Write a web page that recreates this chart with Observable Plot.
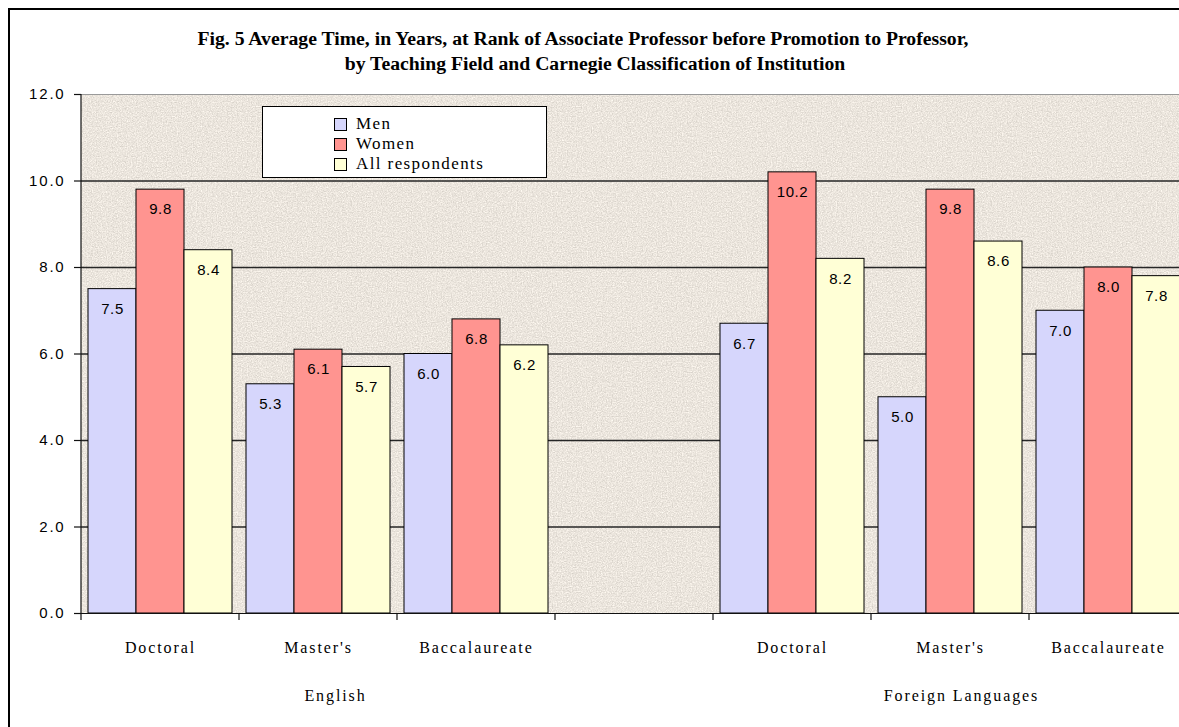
<!DOCTYPE html>
<html>
<head>
<meta charset="utf-8">
<script src="https://cdn.jsdelivr.net/npm/d3@7"></script>
<script src="https://cdn.jsdelivr.net/npm/@observablehq/plot@0.6"></script>
<style>
  html, body { margin: 0; padding: 0; background: #fff; overflow: hidden; width: 1179px; height: 727px; }
  #frame { position: absolute; left: 8px; top: 8px; width: 1260px; height: 780px; border: 2px solid #000; box-sizing: border-box; }
  #chart { position: absolute; left: 0; top: 0; width: 1200px; }
  #chart svg { max-width: none !important; width: 1200px; height: 727px; }
  .title { position: absolute; white-space: nowrap; transform: translateX(-50%); font: bold 19.7px "Liberation Serif", serif; color: #000; }
  #legend { position: absolute; left: 262px; top: 106px; width: 285px; height: 72px; box-sizing: border-box;
            background: #fff; border: 1px solid #000; padding: 7px 0 0 71px; }
  #legend .item { height: 20px; display: flex; align-items: center; font-family: "Liberation Serif", serif; font-size: 17px; letter-spacing: 1.4px; color: #000; }
  #legend .sw { width: 11px; height: 11px; border: 1px solid #000; margin-right: 9px; }
</style>
</head>
<body>
<div id="frame"></div>
<div id="chart"></div>
<div class="title" style="left:583px; top:27px;">Fig. 5 Average Time, in Years, at Rank of Associate Professor before Promotion to Professor,</div>
<div class="title" style="left:595px; top:52px;">by Teaching Field and Carnegie Classification of Institution</div>
<div id="legend"></div>
<script>
// Teaching fields and institution types along the x axis
const fields = ["English", "Foreign Languages"];
const categories = ["Doctoral", "Master's", "Baccalaureate"];
const seriesNames = ["Men", "Women", "All respondents"];
const seriesColors = ["#d6d6fc", "#ff9490", "#ffffd6"];

// Average years at associate rank, in field order (English, then Foreign Languages)
const men = [7.5, 5.3, 6.0, 6.7, 5.0, 7.0];
const women = [9.8, 6.1, 6.8, 10.2, 9.8, 8.0];
const allRespondents = [8.4, 5.7, 6.2, 8.2, 8.6, 7.8];

const yTicks = [0, 2, 4, 6, 8, 10, 12];

// One facet per field/category pair, with an empty slot between the two fields
const slots = [];
fields.forEach((f, i) => {
  if (i > 0) slots.push("gap");
  categories.forEach(c => slots.push(f + "|" + c));
});
const seriesValues = [men, women, allRespondents];
const rows = [];
fields.forEach((f, fi) => categories.forEach((c, ci) => {
  seriesNames.forEach((s, si) => rows.push({slot: f + "|" + c, series: s, value: seriesValues[si][fi * categories.length + ci]}));
}));
const gridRows = slots.flatMap(slot => yTicks.filter(v => v > 0).map(v => ({slot, v})));
const fieldLabel = f => [{slot: f + "|" + categories[1], label: f}];

const W = 1200, H = 727;
const M = {left: 78, right: 10, top: 94, bottom: 114};
const serif = "Liberation Serif, serif";
const sans = "Liberation Sans, sans-serif";

const chart = Plot.plot({
  width: W, height: H,
  marginLeft: M.left, marginRight: M.right, marginTop: M.top, marginBottom: M.bottom,
  style: {background: "transparent", overflow: "visible", maxWidth: "none"},
  fx: {domain: slots, padding: 0, label: null, axis: null},
  x: {domain: seriesNames, paddingInner: 0, paddingOuter: 0.137, axis: null},
  y: {domain: [0, 12], axis: null},
  color: {domain: seriesNames, range: seriesColors},
  marks: [
    Plot.ruleY(gridRows, {fx: "slot", y: "v", stroke: d => d.v === 12 ? "#9a9a9a" : "#262626", strokeWidth: d => d.v === 12 ? 1 : 1.4}),
    Plot.barY(rows, {fx: "slot", x: "series", y: "value", fill: "series", stroke: "#000", strokeWidth: 1}),
    Plot.text(rows, {fx: "slot", x: "series", y: "value", text: d => d.value.toFixed(1), dy: 20,
      fontFamily: sans, fontSize: 15, fill: "#000"}),
    Plot.ruleY([0], {stroke: "#111", strokeWidth: 1.2}),
    Plot.axisY({ticks: yTicks, tickFormat: d => d.toFixed(1), tickSize: 7, tickPadding: 9,
      fontFamily: sans, fontSize: 15, stroke: "#111", strokeWidth: 1.2, label: null}),
    Plot.axisFx({anchor: "bottom", tickSize: 0, tickPadding: 28, tickFormat: k => k === "gap" ? "" : k.split("|")[1],
      fontFamily: serif, fontSize: 16, label: null}),
    // Field names under each group of institution types
    Plot.text(fieldLabel(fields[0]), {fx: "slot", text: "label", frameAnchor: "bottom", dy: 87, dx: 17,
      fontFamily: serif, fontSize: 16, fill: "#000"}),
    Plot.text(fieldLabel(fields[1]), {fx: "slot", text: "label", frameAnchor: "bottom", dy: 87, dx: 11,
      fontFamily: serif, fontSize: 16, fill: "#000"})
  ]
});

// Paper-like fill behind the plot area, plus axis lines and category boundary ticks
const svg = d3.select(chart);
const fxScale = chart.scale("fx");
const yScale = chart.scale("y");
const x0 = fxScale.apply(slots[0]);
const x1 = fxScale.apply(slots[slots.length - 1]) + fxScale.bandwidth;
const yTop = yScale.apply(12), yBase = yScale.apply(0);

const defs = svg.insert("defs", ":first-child");
const grain = defs.append("filter").attr("id", "grain").attr("x", 0).attr("y", 0).attr("width", 1).attr("height", 1)
  .attr("color-interpolation-filters", "sRGB");
grain.append("feTurbulence").attr("type", "fractalNoise").attr("baseFrequency", 0.8).attr("numOctaves", 3).attr("seed", 11);
grain.append("feColorMatrix").attr("type", "matrix")
  .attr("values", "0.24 0 0 0 0.802  0.24 0 0 0 0.779  0.24 0 0 0 0.747  0 0 0 0 1");
svg.insert("rect", "defs + *")
  .attr("x", x0).attr("y", yTop).attr("width", x1 - x0).attr("height", yBase - yTop)
  .attr("fill", "#ebe5dd").attr("filter", "url(#grain)");

const axisG = svg.append("g").attr("stroke", "#111").attr("stroke-width", 1.2);
axisG.append("line").attr("x1", x0).attr("x2", x0).attr("y1", yTop).attr("y2", yBase);
slots.concat([null]).forEach(s => {
  const xb = s === null ? x1 : fxScale.apply(s);
  axisG.append("line").attr("x1", xb).attr("x2", xb).attr("y1", yBase).attr("y2", yBase + 7);
});

// Typefaces and letter spacing for the axis text
svg.selectAll("[aria-label='fx-axis tick label'], [aria-label='fx-axis tick label'] text")
  .attr("font-family", serif).attr("letter-spacing", "1.9px");
svg.selectAll("[aria-label='y-axis tick label'] text").attr("letter-spacing", "1.8px");
svg.selectAll("[aria-label='text'] text").attr("letter-spacing", "0.6px");
svg.selectAll("[aria-label='text'] text").filter(function() { return fields.includes(this.textContent); })
  .attr("letter-spacing", "1.9px");

document.getElementById("chart").appendChild(chart);

// Legend
const legend = d3.select("#legend");
seriesNames.forEach((s, i) => {
  const item = legend.append("div").attr("class", "item");
  item.append("div").attr("class", "sw").style("background", seriesColors[i]);
  item.append("span").text(s);
});
</script>
</body>
</html>
